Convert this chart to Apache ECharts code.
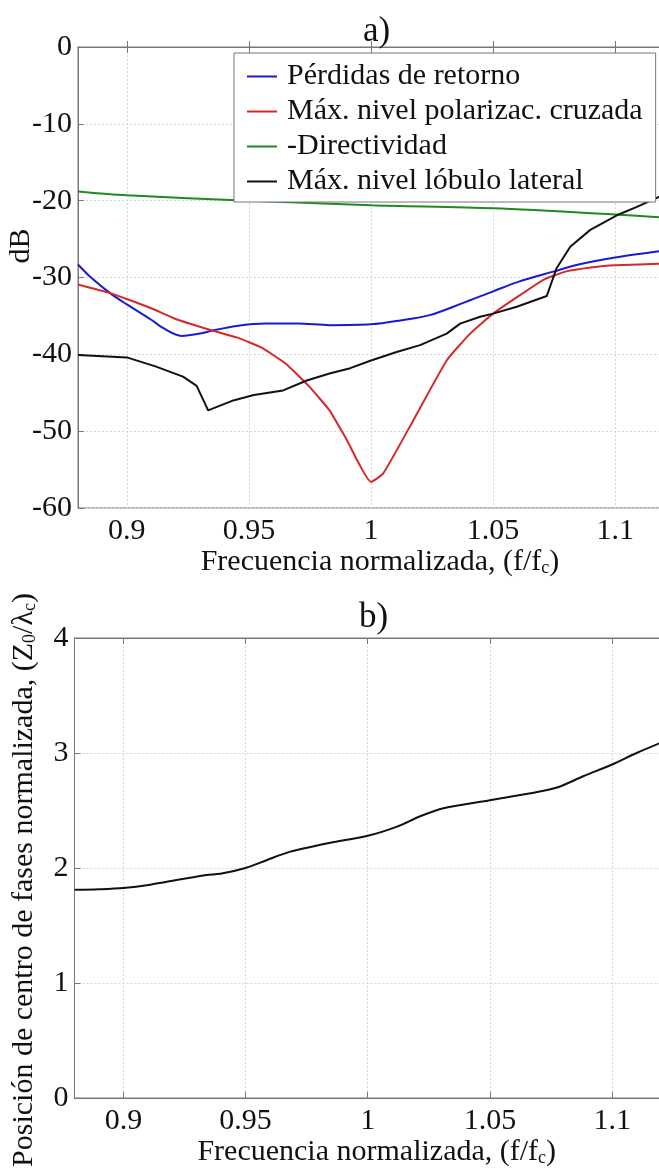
<!DOCTYPE html>
<html>
<head>
<meta charset="utf-8">
<script src="https://cdn.jsdelivr.net/npm/echarts@6/dist/echarts.min.js"></script>
<style>
  html, body { margin: 0; padding: 0; background: #fff; }
  #chart { width: 659px; height: 1171px; }
</style>
</head>
<body>
<div id="chart"></div>
<script>
// a) curves (frequency normalizada, dB)
const freqRet = [0.88, 0.885, 0.893, 0.9, 0.91, 0.915, 0.9224, 0.93, 0.935, 0.945, 0.957, 0.97, 0.983, 1.0, 1.012, 1.024, 1.037, 1.05, 1.06, 1.075, 1.085, 1.1, 1.12];
const dbRet = [-28.3, -29.9, -32.0, -33.5, -35.5, -36.6, -37.6, -37.3, -36.9, -36.3, -36.0, -36.0, -36.2, -36.1, -35.6, -34.9, -33.4, -31.8, -30.6, -29.2, -28.3, -27.4, -26.5];

const freqCross = [0.88, 0.893, 0.9, 0.91, 0.92, 0.935, 0.945, 0.955, 0.965, 0.975, 0.983, 0.99, 1.0, 1.005, 1.0173, 1.031, 1.0406, 1.05, 1.061, 1.0706, 1.08, 1.09, 1.1, 1.12];
const dbCross = [-30.9, -32.0, -32.8, -34.0, -35.4, -36.9, -37.8, -39.1, -41.2, -44.3, -47.3, -51.1, -56.6, -55.5, -48.6, -40.8, -37.3, -34.7, -32.3, -30.3, -29.2, -28.7, -28.4, -28.2];

const freqDir = [0.88, 0.9, 0.95, 1.0, 1.05, 1.1, 1.12];
const dbDir = [-18.8, -19.3, -20.0, -20.6, -21.0, -21.8, -22.2];

const freqSide = [0.88, 0.9, 0.912, 0.923, 0.9286, 0.9333, 0.9436, 0.952, 0.964, 0.9737, 0.983, 0.9915, 1.0, 1.0105, 1.0201, 1.031, 1.0365, 1.0447, 1.05, 1.0597, 1.072, 1.076, 1.0816, 1.0898, 1.1007, 1.1089, 1.12];
const dbSide = [-40.1, -40.4, -41.6, -42.9, -44.1, -47.3, -46.0, -45.3, -44.7, -43.4, -42.5, -41.8, -40.8, -39.7, -38.8, -37.3, -36.0, -35.1, -34.7, -33.8, -32.4, -28.8, -26.0, -23.8, -21.9, -20.8, -19.2];

// b) posición del centro de fases
const freqPhase = [0.88, 0.89, 0.9, 0.911, 0.923, 0.934, 0.9397, 0.95, 0.9588, 0.968, 0.978, 0.9847, 1.0, 1.012, 1.0215, 1.031, 1.05, 1.0667, 1.0775, 1.0884, 1.1, 1.11, 1.12];
const posPhase = [1.81, 1.815, 1.826, 1.855, 1.90, 1.94, 1.95, 2.0, 2.07, 2.14, 2.19, 2.22, 2.28, 2.36, 2.45, 2.52, 2.59, 2.65, 2.70, 2.80, 2.90, 3.0, 3.09];

const legendNames = ['Pérdidas de retorno', 'Máx. nivel polarizac. cruzada', '-Directividad', 'Máx. nivel lóbulo lateral'];
const lineColors = ['#1a1ad0', '#d42a2a', '#1f8a1f', '#111111'];

const serif = 'Liberation Serif';
const pairs = (xs, ys) => xs.map((x, i) => [x, ys[i]]);

const myChart = echarts.init(document.getElementById('chart'));

const subRich = {
  sub: { fontSize: 18, fontFamily: serif, fill: '#111', color: '#111', lineHeight: 12, verticalAlign: 'bottom' },
};

function xAxisMain(gridIndex) {
  return {
    type: 'value',
    gridIndex: gridIndex,
    min: 0.88,
    max: 1.12,
    splitNumber: 5,
    name: 'Frecuencia normalizada, (f/f{sub|c})',
    nameLocation: 'middle',
    nameGap: 38,
    nameTextStyle: { fontFamily: serif, fontSize: 30, color: '#111', lineHeight: 30, padding: [0, 0, 0, 18], rich: subRich },
    axisLine: { show: true, lineStyle: { color: '#777', width: 1 } },
    axisTick: { show: true, inside: true, length: 6, lineStyle: { color: '#777' } },
    axisLabel: { fontFamily: serif, fontSize: 30, color: '#111', margin: 8, showMinLabel: false, showMaxLabel: false },
    splitLine: { show: true, lineStyle: { color: '#d6d6d6', type: [2, 2], width: 1 } },
  };
}

function xAxisTop(gridIndex) {
  return {
    type: 'value',
    gridIndex: gridIndex,
    position: 'top',
    min: 0.88,
    max: 1.12,
    splitNumber: 5,
    axisLine: { show: true, lineStyle: { color: '#777', width: 1 } },
    axisTick: { show: true, inside: true, length: 6, lineStyle: { color: '#777' } },
    axisLabel: { show: false },
    splitLine: { show: false },
  };
}

function yAxisBase(gridIndex, min, max, step) {
  return {
    type: 'value',
    gridIndex: gridIndex,
    min: min,
    max: max,
    interval: step,
    axisLine: { show: true, lineStyle: { color: '#777', width: 1 } },
    axisTick: { show: true, inside: true, length: 6, lineStyle: { color: '#777' } },
    axisLabel: { fontFamily: serif, fontSize: 30, color: '#111', margin: 6 },
    splitLine: { show: true, lineStyle: { color: '#d6d6d6', type: [2, 2], width: 1 } },
  };
}

const option = {
  backgroundColor: '#fff',
  animation: false,
  title: [
    { text: 'a)', left: 358, top: 9, textStyle: { fontFamily: serif, fontSize: 35, fontWeight: 'normal', color: '#111' } },
    { text: 'b)', left: 354, top: 595, textStyle: { fontFamily: serif, fontSize: 35, fontWeight: 'normal', color: '#111' } },
  ],
  // y-axis titles (rotated)
  graphic: [
    {
      type: 'text', x: 21, y: 246, rotation: Math.PI / 2, z: 10,
      style: { text: 'dB', fontFamily: serif, fontSize: 30, fill: '#111', align: 'center', verticalAlign: 'middle' },
    },
    {
      type: 'text', x: 24, y: 880, rotation: Math.PI / 2, z: 10,
      style: {
        text: 'Posición de centro de fases normalizada, (Z{sub|0}/λ{sub|c})',
        fontFamily: serif, fontSize: 30, fill: '#111', lineHeight: 30, align: 'center', verticalAlign: 'middle',
        rich: subRich,
      },
    },
  ],
  legend: {
    data: legendNames,
    orient: 'vertical',
    left: 234,
    top: 53,
    padding: [6, 13, 3, 13],
    itemGap: 0,
    itemWidth: 30,
    itemHeight: 2,
    icon: 'rect',
    backgroundColor: '#fff',
    borderColor: '#777',
    borderWidth: 1,
    borderRadius: 0,
    selectedMode: false,
    textStyle: { fontFamily: serif, fontSize: 30, color: '#111', lineHeight: 35, padding: [0, 0, 0, 5] },
  },
  grid: [
    { left: 78, top: 47, right: -5, height: 461, outerBoundsMode: 'none', show: true, borderColor: '#777', borderWidth: 1, backgroundColor: '#fff' },
    { left: 74.5, top: 638, right: -2, height: 460, outerBoundsMode: 'none', show: true, borderColor: '#777', borderWidth: 1, backgroundColor: '#fff' },
  ],
  xAxis: [xAxisMain(0), xAxisTop(0), xAxisMain(1), xAxisTop(1)],
  yAxis: [yAxisBase(0, -60, 0, 10), yAxisBase(1, 0, 4, 1)],
  series: [
    {
      name: legendNames[0], type: 'line', xAxisIndex: 0, yAxisIndex: 0,
      data: pairs(freqRet, dbRet), smooth: 0.3, symbol: 'none',
      lineStyle: { color: lineColors[0], width: 2 }, itemStyle: { color: lineColors[0] },
    },
    {
      name: legendNames[1], type: 'line', xAxisIndex: 0, yAxisIndex: 0,
      data: pairs(freqCross, dbCross), smooth: 0.15, symbol: 'none',
      lineStyle: { color: lineColors[1], width: 2 }, itemStyle: { color: lineColors[1] },
    },
    {
      name: legendNames[2], type: 'line', xAxisIndex: 0, yAxisIndex: 0,
      data: pairs(freqDir, dbDir), smooth: 0.3, symbol: 'none',
      lineStyle: { color: lineColors[2], width: 2 }, itemStyle: { color: lineColors[2] },
    },
    {
      name: legendNames[3], type: 'line', xAxisIndex: 0, yAxisIndex: 0,
      data: pairs(freqSide, dbSide), symbol: 'none',
      lineStyle: { color: lineColors[3], width: 2 }, itemStyle: { color: lineColors[3] },
    },
    {
      name: 'Centro de fases', type: 'line', xAxisIndex: 2, yAxisIndex: 1,
      data: pairs(freqPhase, posPhase), smooth: 0.3, symbol: 'none',
      lineStyle: { color: '#111', width: 2 }, itemStyle: { color: '#111' },
    },
  ],
};

myChart.setOption(option);
</script>
</body>
</html>
